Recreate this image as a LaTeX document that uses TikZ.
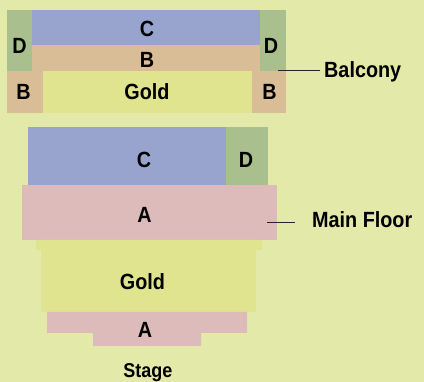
\documentclass[tikz,border=0pt]{standalone}
\usepackage{fontspec}
\setmainfont[FakeStretch=0.9]{Liberation Sans}
\definecolor{paper}{HTML}{E3E9A9}
\definecolor{goldseat}{HTML}{E1E48E}
\definecolor{cseat}{HTML}{98A4CD}
\definecolor{bseat}{HTML}{D9BD97}
\definecolor{dseat}{HTML}{A9BF8D}
\definecolor{aseat}{HTML}{DCBBBA}
\begin{document}
\begin{tikzpicture}
    [
    x=1pt, y=-1pt,
    tag/.style={font=\fontsize{22}{26}\selectfont\bfseries, inner sep=0pt, anchor=base},
    sidelabel/.style={tag, anchor=base west},
    leader/.style={draw=black!85, line width=0.8pt}
    ]
    \fill [paper] (0,0) rectangle (424,382);
    \useasboundingbox (0,0) rectangle (424,382);

    % balcony
    \fill [dseat] (7,10) rectangle (32,71);
    \fill [dseat] (260,10) rectangle (286,71);
    \fill [cseat] (32,10) rectangle (260,45);
    \fill [bseat] (32,45) rectangle (260,71);
    \fill [bseat] (7,71) rectangle (43,113);
    \fill [goldseat] (43,71) rectangle (252,113);
    \fill [bseat] (252,71) rectangle (286,113);
    \node (bc) at (147,37) [tag] {C};
    \node (bb) at (147,68) [tag] {B};
    \node (bgold) at (147,100) [tag] {Gold};
    \node (bdl) at (19.5,54) [tag] {D};
    \node (bdr) at (271,54) [tag] {D};
    \node (bbl) at (23.5,100) [tag] {B};
    \node (bbr) at (269.5,100) [tag] {B};

    % main floor
    \fill [cseat] (28,127) rectangle (226,185);
    \fill [dseat] (226,127) rectangle (268,185);
    \fill [aseat] (22,185) rectangle (277,240);
    \fill [goldseat] (36,240) -- (262,240) -- (262,250) -- (256,250) -- (256,312)
        -- (41,312) -- (41,250) -- (36,250) -- cycle;
    \fill [aseat] (47,312) -- (247,312) -- (247,333) -- (201,333) -- (201,346)
        -- (93,346) -- (93,333) -- (47,333) -- cycle;
    \node (mc) at (144,168) [tag] {C};
    \node (md) at (246,168) [tag] {D};
    \node (ma) at (144.5,223) [tag] {A};
    \node (mgold) at (142.5,290) [tag] {Gold};
    \node (fa) at (145,338) [tag] {A};
    \node (stage) at (148,378) [tag, font=\fontsize{20}{24}\selectfont\bfseries] {Stage};

    % labels
    \node (balcony) at (324,78) [sidelabel] {Balcony};
    \node (mainfloor) at (312,228) [sidelabel] {Main Floor};
    \coordinate (balconyend) at (278,70);
    \coordinate (floorend) at (267,222);
    \coordinate (balconystart) at ([xshift=-4pt]balcony.west);
    \coordinate (floorstart) at ([xshift=-17pt]mainfloor.west);
    \draw [leader] (balconyend) -- (balconyend -| balconystart);
    \draw [leader] (floorend) -- (floorend -| floorstart);
\end{tikzpicture}
\end{document}
